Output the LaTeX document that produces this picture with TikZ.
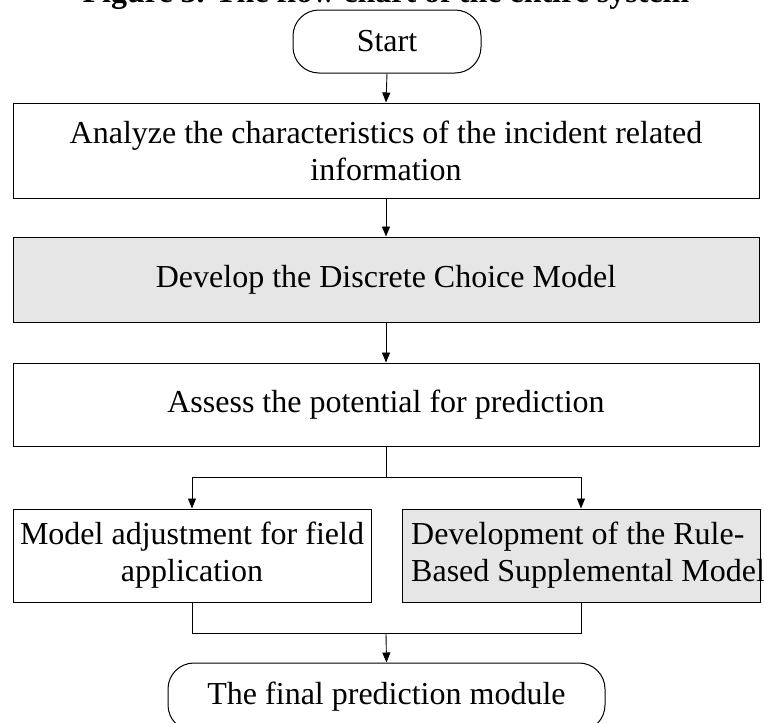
\documentclass[tikz,border=0pt]{standalone}
\usepackage{fontspec}
\setmainfont{Liberation Serif}
\usetikzlibrary{arrows.meta}
\definecolor{boxgray}{RGB}{230,230,230}
\tikzset{
  txt/.style={font=\fontsize{32}{37}\selectfont, align=center},
  box/.style={draw, line width=1pt, inner sep=0pt, txt},
  term/.style={box, rounded corners=26pt},
  conn/.style={line width=0.9pt},
  arr/.style={conn, -{Triangle[length=10pt,width=8pt]}},
}
\begin{document}
\begin{tikzpicture}[x=1pt,y=-1pt]
\useasboundingbox (0,0) rectangle (764,723);
\node[anchor=base, font=\bfseries\fontsize{32}{37}\selectfont] (title) at (386,2.5) {Figure 3. The flow chart of the entire system};
\node[term, minimum width=188pt, minimum height=63pt] (start) at (387,41.5) {Start};
\node[box, minimum width=746pt, minimum height=95pt] (b1) at (386,150.5) {Analyze the characteristics of the incident related\\information};
\node[box, fill=boxgray, minimum width=746pt, minimum height=85pt] (b2) at (386,279.5) {Develop the Discrete Choice Model};
\node[box, minimum width=746pt, minimum height=83pt] (b3) at (386,404.5) {Assess the potential for prediction};
\node[box, minimum width=358pt, minimum height=93pt] (b4) at (192,555.5) {Model adjustment for field\\application};
\node[box, fill=boxgray, minimum width=358pt, minimum height=93pt] (b5) at (581,555.5) {};
\node[txt, align=left, anchor=west, inner sep=0pt] (b5t) at (411,555.5) {Development of the Rule-\\Based Supplemental Model};
\node[term, minimum width=437pt, minimum height=68pt] (final) at (386.5,697) {The final prediction module};
\coordinate (split) at (386,477);
\coordinate (join) at (386,633);
\draw[arr] (start.south) -- (b1.north);
\draw[arr] (b1.south) -- (b2.north);
\draw[arr] (b2.south) -- (b3.north);
\draw[conn] (b3.south) -- (split);
\draw[arr] (split) -| (b4.north);
\draw[arr] (split) -| (b5.north);
\draw[conn] (b4.south) |- (join);
\draw[conn] (b5.south) |- (join);
\draw[arr] (join) -- (final.north);
\end{tikzpicture}
\end{document}
